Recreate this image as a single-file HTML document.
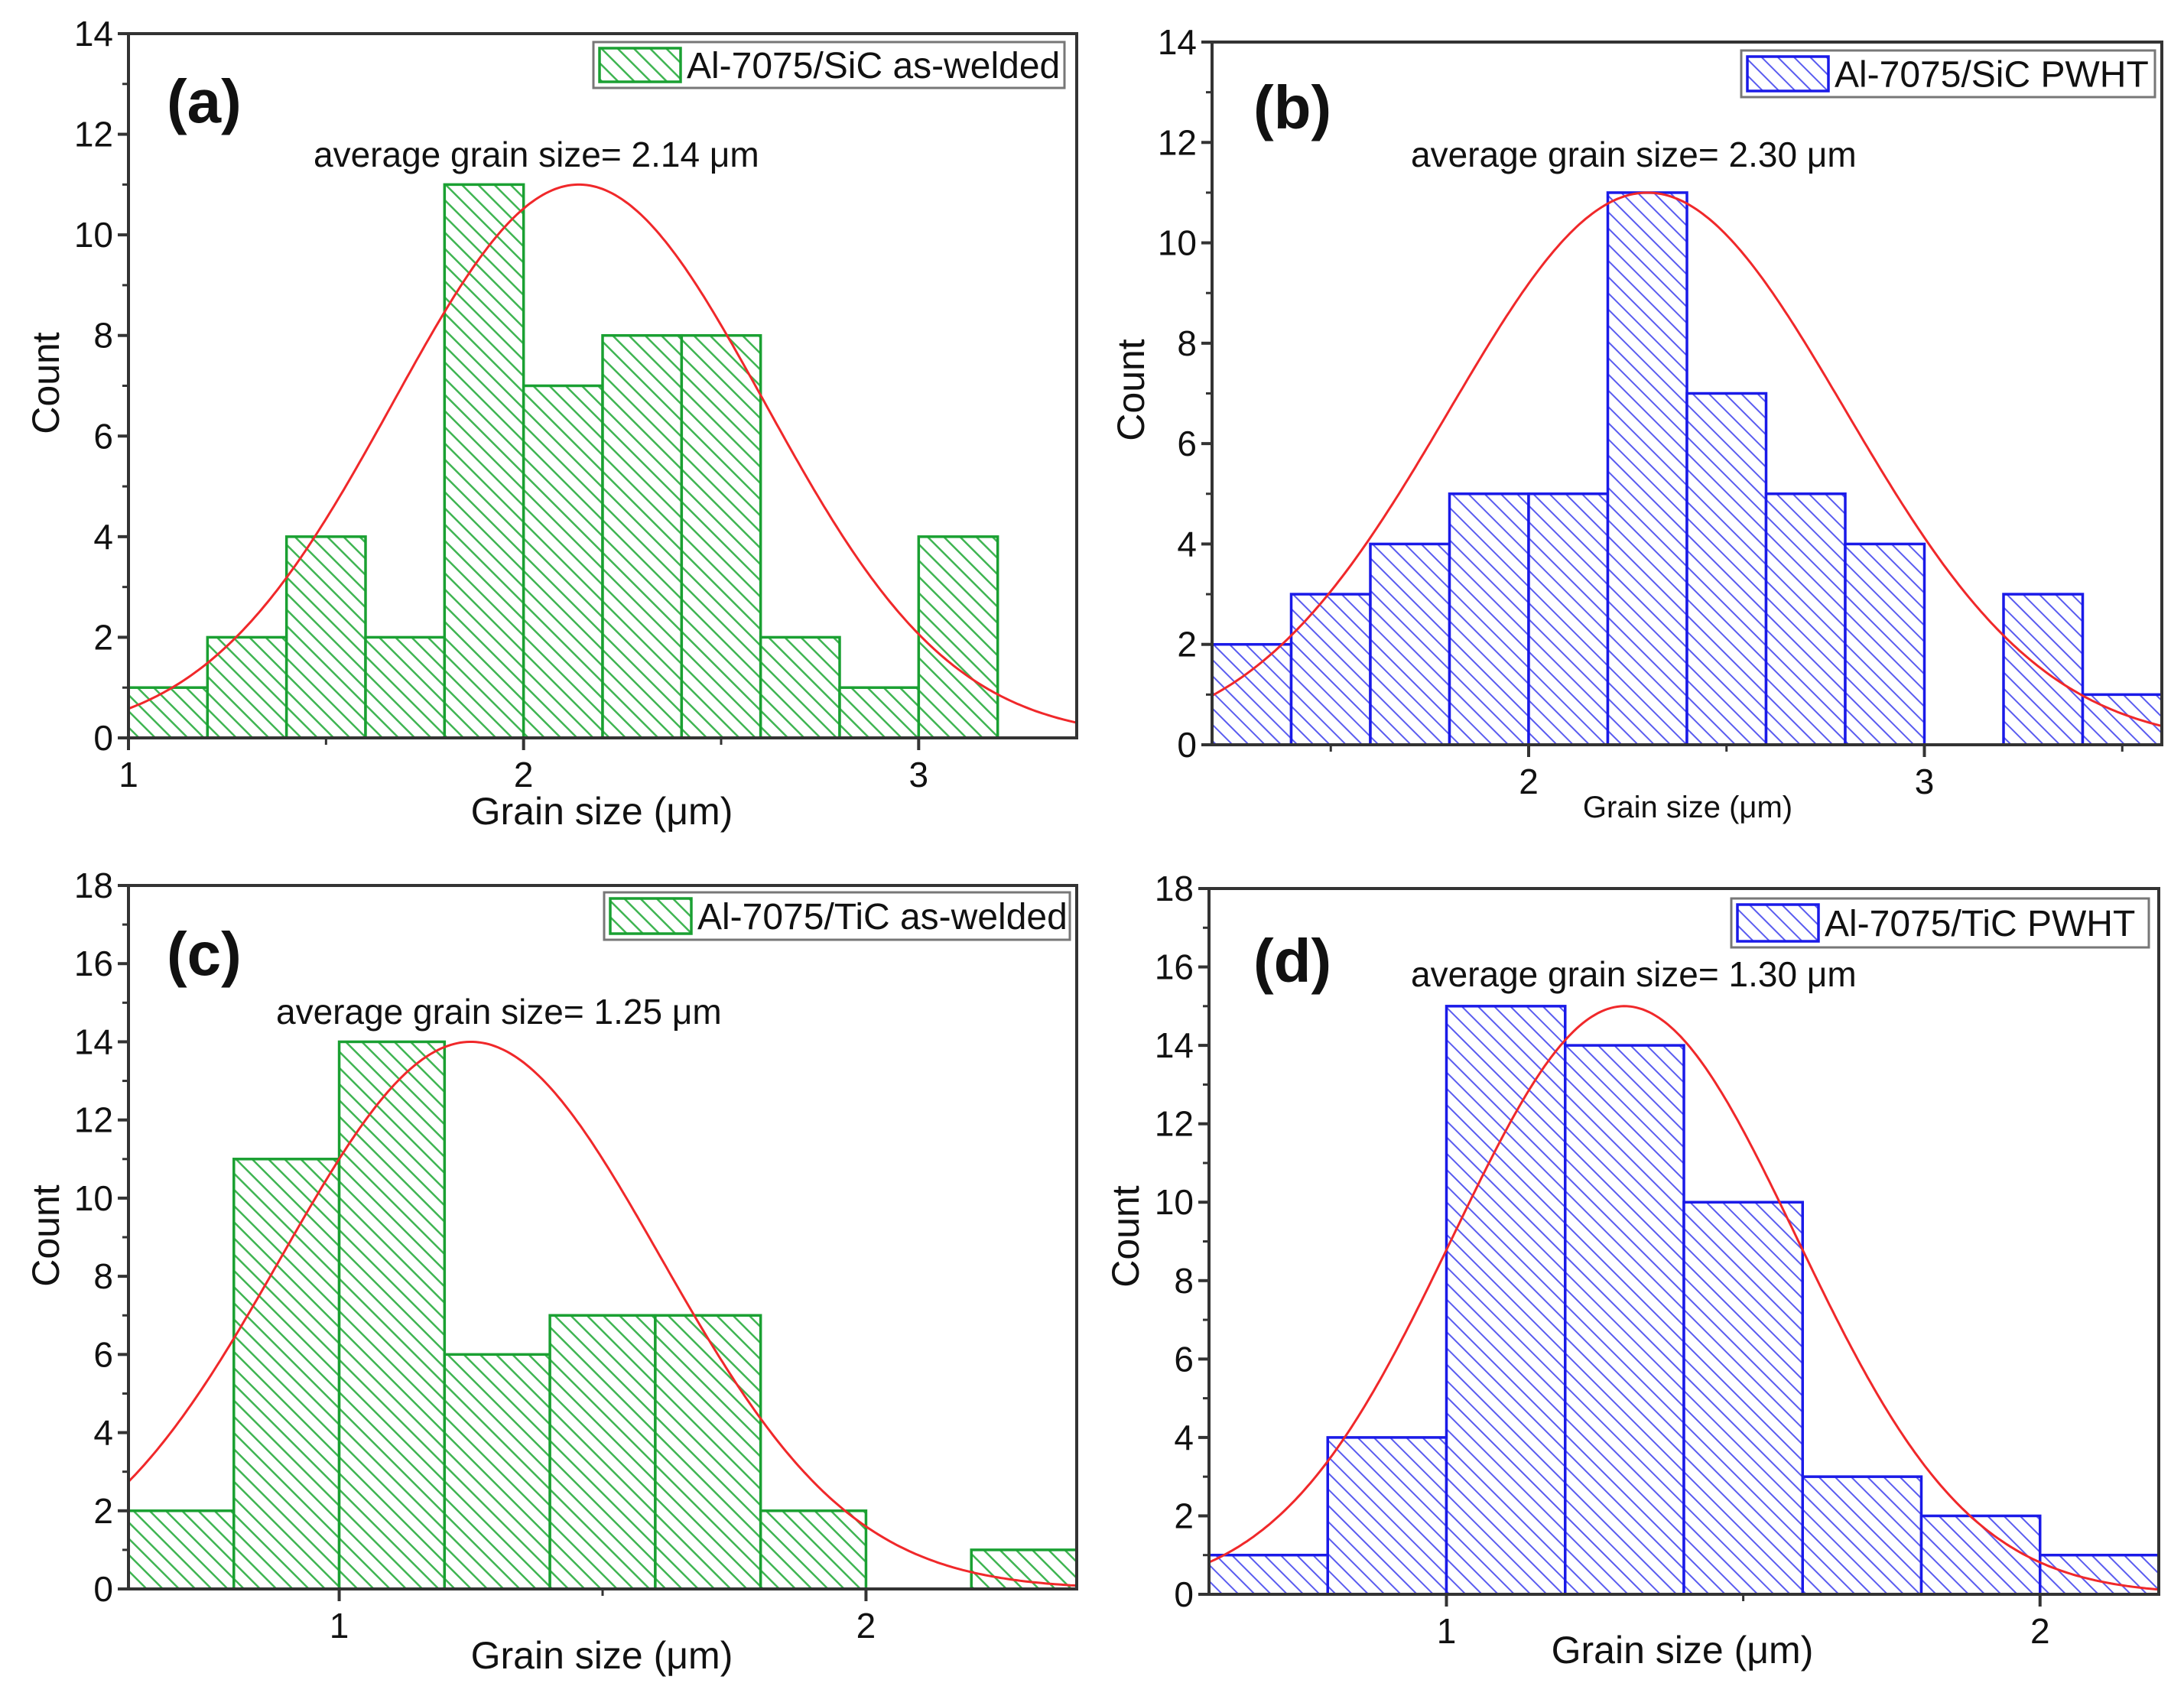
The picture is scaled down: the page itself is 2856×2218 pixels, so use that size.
<!DOCTYPE html>
<html><head><meta charset="utf-8"><style>
html,body{margin:0;padding:0;background:#fff}
svg{display:block}
text{font-family:"Liberation Sans",sans-serif;fill:#111}
</style></head><body>
<svg id="fig" width="2856" height="2218" viewBox="0 0 2856 2218" xmlns="http://www.w3.org/2000/svg">
<defs>
<pattern id="hatch-green" patternUnits="userSpaceOnUse" width="15" height="15" patternTransform="rotate(-45)">
<rect width="15" height="15" fill="#fff"/><line x1="0" y1="0" x2="0" y2="15" stroke="#3fb552" stroke-width="5"/></pattern>
<pattern id="hatch-blue" patternUnits="userSpaceOnUse" width="15" height="15" patternTransform="rotate(-45)">
<rect width="15" height="15" fill="#fff"/><line x1="0" y1="0" x2="0" y2="15" stroke="#5a5cf0" stroke-width="4"/></pattern>
</defs>
</svg>
<script>
// Panel (a)
const aBinStarts=[1.0,1.2,1.4,1.6,1.8,2.0,2.2,2.4,2.6,2.8,3.0];
const aCounts=[1,2,4,2,11,7,8,8,2,1,4];
const aYTicks=[0,2,4,6,8,10,12,14];
const aXTicks=[1,2,3];
const aFit=[11,2.14,0.47];
// Panel (b)
const bBinStarts=[1.2,1.4,1.6,1.8,2.0,2.2,2.4,2.6,2.8,3.0,3.2,3.4];
const bCounts=[2,3,4,5,5,11,7,5,4,0,3,1];
const bYTicks=[0,2,4,6,8,10,12,14];
const bXTicks=[2,3];
const bFit=[11,2.30,0.50];
// Panel (c)
const cBinStarts=[0.6,0.8,1.0,1.2,1.4,1.6,1.8,2.0,2.2];
const cCounts=[2,11,14,6,7,7,2,0,1];
const cYTicks=[0,2,4,6,8,10,12,14,16,18];
const cXTicks=[1,2];
const cFit=[14,1.25,0.36];
// Panel (d)
const dBinStarts=[0.6,0.8,1.0,1.2,1.4,1.6,1.8,2.0];
const dCounts=[1,4,15,14,10,3,2,1];
const dYTicks=[0,2,4,6,8,10,12,14,16,18];
const dXTicks=[1,2];
const dFit=[15,1.30,0.29];

const NS="http://www.w3.org/2000/svg";
const svg=document.getElementById('fig');
function mk(tag,attrs,parent){const e=document.createElementNS(NS,tag);for(const k in attrs)e.setAttribute(k,attrs[k]);(parent||svg).appendChild(e);return e;}

const panels=[
 {id:'a',bins:aBinStarts,counts:aCounts,yt:aYTicks,xt:aXTicks,fit:aFit,L:168,R:1408,T:44,B:965,x0:1.0,x1:3.4,ymax:14,col:'#1aa032',pat:'hatch-green',
  leg:[776,55,616,60],legText:'Al-7075/SiC as-welded',lab:[218,160],avg:[410,218],avgText:'average grain size= 2.14 \u03bcm',yl:[60,501],xl:[787,1078,50]},
 {id:'b',bins:bBinStarts,counts:bCounts,yt:bYTicks,xt:bXTicks,fit:bFit,L:1585,R:2827,T:55,B:974,x0:1.2,x1:3.6,ymax:14,col:'#1a1ae8',pat:'hatch-blue',
  leg:[2277,66,541,61],legText:'Al-7075/SiC PWHT',lab:[1639,168],avg:[1845,218],avgText:'average grain size= 2.30 \u03bcm',yl:[1479,510],xl:[2207,1069,40]},
 {id:'c',bins:cBinStarts,counts:cCounts,yt:cYTicks,xt:cXTicks,fit:cFit,L:168,R:1408,T:1158,B:2078,x0:0.6,x1:2.4,ymax:18,col:'#1aa032',pat:'hatch-green',
  leg:[790,1167,609,62],legText:'Al-7075/TiC as-welded',lab:[218,1275],avg:[361,1339],avgText:'average grain size= 1.25 \u03bcm',yl:[60,1616],xl:[787,2182,50]},
 {id:'d',bins:dBinStarts,counts:dCounts,yt:dYTicks,xt:dXTicks,fit:dFit,L:1581,R:2823,T:1162,B:2085,x0:0.6,x1:2.2,ymax:18,col:'#1a1ae8',pat:'hatch-blue',
  leg:[2264,1175,546,64],legText:'Al-7075/TiC PWHT',lab:[1639,1284],avg:[1845,1290],avgText:'average grain size= 1.30 \u03bcm',yl:[1472,1617],xl:[2200,2175,50]}
];

panels.forEach(p=>{
  const g=mk('g',{});
  
  
  const X=v=>p.L+(v-p.x0)/(p.x1-p.x0)*(p.R-p.L);
  const Y=v=>p.B-v/p.ymax*(p.B-p.T);
  const bw=0.2;
  p.bins.forEach((s,i)=>{
    if(p.counts[i]<=0)return;
    const r=mk('rect',{x:X(s),y:Y(p.counts[i]),width:X(s+bw)-X(s),height:p.B-Y(p.counts[i]),fill:'url(#'+p.pat+')',stroke:p.col,'stroke-width':3.5},g);
    
    
  });
  let d='';
  for(let k=0;k<=300;k++){const xv=p.x0+(p.x1-p.x0)*k/300;const yv=p.fit[0]*Math.exp(-Math.pow(xv-p.fit[1],2)/(2*p.fit[2]*p.fit[2]));d+=(k?'L':'M')+X(xv).toFixed(1)+','+Y(yv).toFixed(1);}
  const c=mk('path',{d:d,fill:'none',stroke:'#f0282a','stroke-width':3},g);
  
  
  const f=mk('rect',{x:p.L,y:p.T,width:p.R-p.L,height:p.B-p.T,fill:'none',stroke:'#333','stroke-width':4},g);
  
  
  p.yt.forEach(v=>{
    mk('line',{x1:p.L-14,x2:p.L,y1:Y(v),y2:Y(v),stroke:'#333','stroke-width':4},g);
    const t=mk('text',{x:p.L-20,y:Y(v)+16,'text-anchor':'end','font-size':46},g);
    t.textContent=v;
    
    
    if(v<p.ymax)mk('line',{x1:p.L-8,x2:p.L,y1:Y(v+1),y2:Y(v+1),stroke:'#333','stroke-width':3},g);
  });
  for(let v=Math.ceil(p.x0*2)/2;v<=p.x1+1e-9;v+=0.5){
    const major=Math.abs(v-Math.round(v))<1e-9;
    mk('line',{x1:X(v),x2:X(v),y1:p.B,y2:p.B+(major?16:9),stroke:'#333','stroke-width':major?4:3},g);
  }
  p.xt.forEach(v=>{
    const t=mk('text',{x:X(v),y:p.B+64,'text-anchor':'middle','font-size':46},g);
    t.textContent=v;
    
    
  });
  const xt=mk('text',{x:p.xl[0],y:p.xl[1],'text-anchor':'middle','font-size':p.xl[2]},g);
  xt.textContent='Grain size (\u03bcm)';
  
  
  const yt=mk('text',{x:p.yl[0],y:p.yl[1],'text-anchor':'middle','font-size':50,transform:'rotate(-90 '+p.yl[0]+' '+p.yl[1]+')',dy:17},g);
  yt.textContent='Count';
  
  
  const pl=mk('text',{x:p.lab[0],y:p.lab[1],'font-size':80,'font-weight':'bold'},g);
  pl.textContent='('+p.id+')';
  
  
  const av=mk('text',{x:p.avg[0],y:p.avg[1],'font-size':46},g);
  av.textContent=p.avgText;
  
  
  const lg=mk('g',{},g);
  
  
  const [lx,ly,lw,lh]=p.leg;
  mk('rect',{x:lx,y:ly,width:lw,height:lh,fill:'#fff',stroke:'#777','stroke-width':3},lg);
  const sw=mk('rect',{x:lx+8,y:ly+8,width:106,height:lh-16,fill:'url(#'+p.pat+')',stroke:p.col,'stroke-width':3.5},lg);
  
  
  const lt=mk('text',{x:lx+122,y:ly+lh/2+17,'font-size':48},lg);
  lt.textContent=p.legText;
  
  
});
</script>
</body></html>
